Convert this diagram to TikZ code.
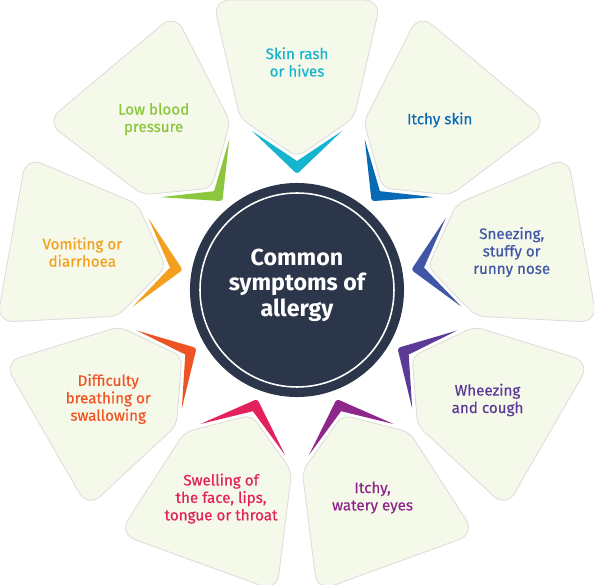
\documentclass[tikz,border=0pt]{standalone}
\usepackage{fontspec}
\setmainfont{Fira Sans}
\newfontfamily\firamed{Fira Sans}[FakeBold=0.4]
\usepackage{tikz}
\definecolor{petalfill}{RGB}{245,249,233}
\definecolor{petalline}{RGB}{220,220,220}
\definecolor{hubnavy}{RGB}{44,54,74}
\definecolor{skincol}{RGB}{23,180,208}
\definecolor{itchcol}{RGB}{8,106,180}
\definecolor{nosecol}{RGB}{64,86,166}
\definecolor{wheezecol}{RGB}{91,58,152}
\definecolor{eyecol}{RGB}{142,38,140}
\definecolor{swellcol}{RGB}{227,33,92}
\definecolor{breathcol}{RGB}{238,84,35}
\definecolor{vomitcol}{RGB}{243,160,30}
\definecolor{bloodcol}{RGB}{140,198,63}
\tikzset{
  petalbox/.style={fill=petalfill,draw=petalline,line width=0.6pt},
  chevron/.style={fill=#1,draw=none},
  symptext/.style={align=center,font=\firamed\fontsize{10.8}{12.4}\selectfont,text=#1,inner sep=0pt},
  hubnode/.style={circle,fill=hubnavy,draw=none,minimum size=5.35cm,inner sep=0pt},
  hubring/.style={draw=white,line width=1.1pt},
  hubtext/.style={align=center,font=\fontsize{16.5}{18.2}\selectfont\bfseries,text=white}
}
% angle, colour, node name, label, radius of label
\newcommand{\sympetal}[5]{%
  \begin{scope}[rotate=#1-90]
    \filldraw[petalbox] (70.5,231) [rounded corners=12pt] -- (84,290) -- (-84,290) -- (-70.5,231)
      [rounded corners=6pt] -- (-57,172) -- (0,133) -- (57,172) -- cycle;
    \fill[chevron=#2] (-22.5,137.5) [rounded corners=2pt] -- (0,116) -- (22.5,137.5)
      [sharp corners] -- (45,159) -- (0,129) -- (-45,159) -- cycle;
  \end{scope}
  \node[symptext=#2] (#3) at (#1:#5) {#4};
}

\begin{document}
\begin{tikzpicture}[x=0.025cm,y=0.025cm]
  \useasboundingbox (-297,-295) rectangle (297,290);

  \sympetal{90}{skincol}{skin}{Skin rash\\or hives}{228}
  \sympetal{50}{itchcol}{itchy}{Itchy skin}{222}
  \sympetal{10}{nosecol}{nose}{Sneezing,\\stuffy or\\runny nose}{218}
  \sympetal{-30}{wheezecol}{wheeze}{Wheezing\\and cough}{220}
  \sympetal{-70}{eyecol}{eyes}{Itchy,\\watery eyes}{221}
  \sympetal{-110}{swellcol}{swell}{Swelling of\\the face, lips,\\tongue or throat}{222}
  \sympetal{-150}{breathcol}{breath}{Difficulty\\breathing or\\swallowing}{218}
  \sympetal{170}{vomitcol}{vomit}{Vomiting or\\diarrhoea}{218}
  \sympetal{130}{bloodcol}{blood}{Low blood\\pressure}{223}

  \node[hubnode] (hub) at (0,0) {};
  \draw[hubring] (hub.center) circle (97);
  \node[hubtext] (title) at (0,5) {Common\\symptoms of\\allergy};
\end{tikzpicture}
\end{document}
